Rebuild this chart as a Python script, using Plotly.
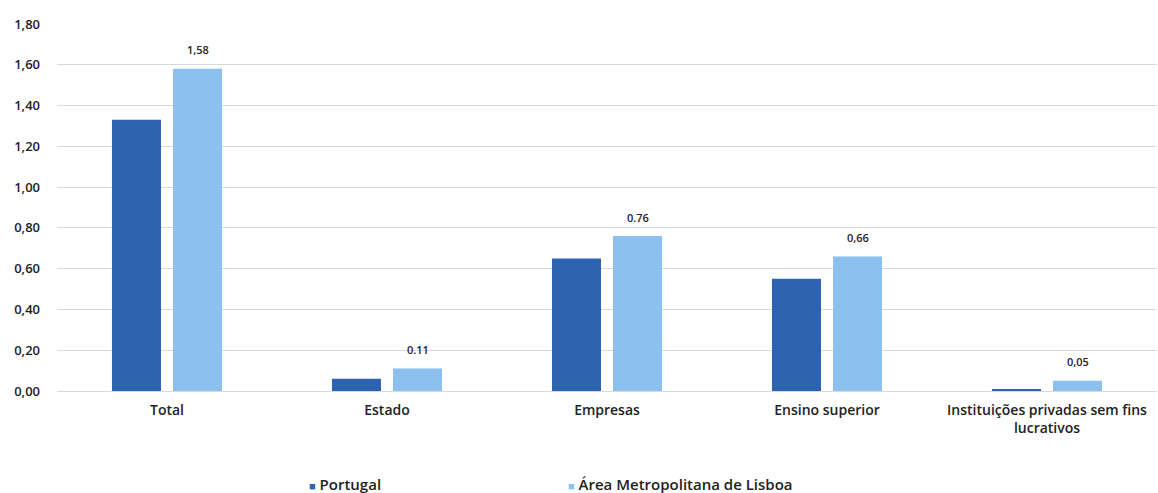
import plotly.graph_objects as go

categories = ["Total", "Estado", "Empresas", "Ensino superior",
              "Instituições privadas sem fins<br>lucrativos"]
portugal = [1.33, 0.06, 0.65, 0.55, 0.01]
lisboa = [1.58, 0.11, 0.76, 0.66, 0.05]
lisboa_labels = ["1,58", "0.11", "0.76", "0,66", "0,05"]
y_ticks = [0, 0.2, 0.4, 0.6, 0.8, 1.0, 1.2, 1.4, 1.6, 1.8]
y_tick_text = ["0,00", "0,20", "0,40", "0,60", "0,80",
               "1,00", "1,20", "1,40", "1,60", "1,80"]

DARK = "#2E63B2"
LIGHT = "#8DC0EE"
TEXT = "#222222"
FONT = "Open Sans"

fig = go.Figure()
fig.add_trace(go.Bar(name="Portugal", x=categories, y=portugal,
                     marker=dict(color=DARK, line_width=0)))
fig.add_trace(go.Bar(name="Área Metropolitana de Lisboa", x=categories, y=lisboa,
                     marker=dict(color=LIGHT, line_width=0)))

# value labels above the Lisboa bars
for cat, val, lab in zip(categories, lisboa, lisboa_labels):
    fig.add_annotation(x=cat, y=val, text=lab, showarrow=False,
                       xshift=31, yshift=19, yanchor="middle",
                       font=dict(family=FONT, size=11, color=TEXT, weight=600))

# legend drawn as text entries below the axis
LEGEND_Y = (391 - 484) / 367
fig.add_annotation(xref="paper", yref="paper", x=(307 - 57) / 1100, y=LEGEND_Y,
                   xanchor="left", yanchor="middle", showarrow=False,
                   text=f"<span style='color:{DARK};font-size:11px'>■</span> Portugal",
                   font=dict(family=FONT, size=15, color=TEXT, weight=600))
fig.add_annotation(xref="paper", yref="paper", x=(566 - 57) / 1100, y=LEGEND_Y,
                   xanchor="left", yanchor="middle", showarrow=False,
                   text=f"<span style='color:{LIGHT};font-size:11px'>■</span> Área Metropolitana de Lisboa",
                   font=dict(family=FONT, size=15, color=TEXT, weight=600))

fig.update_layout(
    width=1158, height=493,
    margin=dict(l=57, r=1, t=24, b=102),
    paper_bgcolor="white", plot_bgcolor="white",
    barmode="group", bargap=0.445, bargroupgap=0.197,
    showlegend=False,
    font=dict(family=FONT, color=TEXT),
)
fig.update_xaxes(
    showgrid=False, showline=True, linecolor="#d9d9d9", linewidth=1,
    ticks="", ticklabelstandoff=6,
    tickfont=dict(family=FONT, size=14, color=TEXT, weight=600),
)
fig.update_yaxes(
    range=[0, 1.8], tickvals=y_ticks, ticktext=y_tick_text,
    showgrid=True, gridcolor="#d9d9d9", gridwidth=1,
    zeroline=True, zerolinecolor="#d9d9d9", zerolinewidth=1,
    showline=False, ticks="", ticklabelstandoff=16,
    tickfont=dict(family=FONT, size=13, color=TEXT, weight=600),
)

fig.write_html("out.html")
